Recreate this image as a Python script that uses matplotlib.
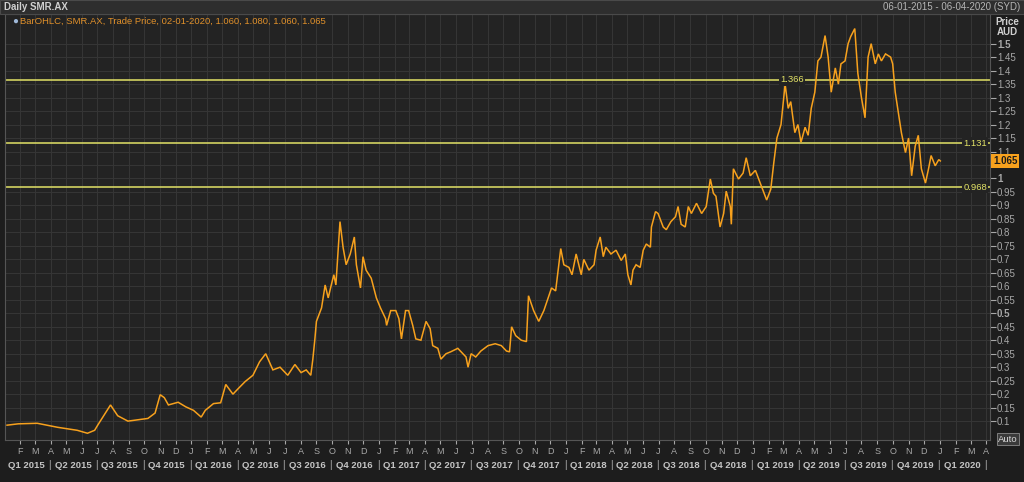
import matplotlib
matplotlib.use("Agg")
import matplotlib.pyplot as plt
import matplotlib.dates as mdates
import matplotlib.transforms as mtransforms
from matplotlib.patches import Rectangle
import numpy as np
import pandas as pd

plt.rcParams["font.family"] = ["Liberation Sans", "DejaVu Sans"]

# daily SMR.AX trade price (turning points only)
DATES = [
    "2015-01-06", "2015-01-28", "2015-03-06", "2015-04-15", "2015-05-23", "2015-06-12",
    "2015-06-26", "2015-07-02", "2015-07-27", "2015-08-10", "2015-08-30", "2015-09-19",
    "2015-10-08", "2015-10-22", "2015-11-01", "2015-11-09", "2015-11-17", "2015-12-06",
    "2015-12-21", "2016-01-05", "2016-01-20", "2016-01-28", "2016-02-13", "2016-02-27",
    "2016-03-08", "2016-03-22", "2016-04-01", "2016-04-15", "2016-04-30", "2016-05-13",
    "2016-05-25", "2016-06-08", "2016-06-22", "2016-07-07", "2016-07-21", "2016-08-02",
    "2016-08-12", "2016-08-21", "2016-08-25", "2016-08-29", "2016-09-01", "2016-09-11",
    "2016-09-18", "2016-09-24", "2016-09-30", "2016-10-05", "2016-10-09", "2016-10-17",
    "2016-10-23", "2016-10-29", "2016-11-06", "2016-11-14", "2016-11-18", "2016-11-26",
    "2016-12-01", "2016-12-07", "2016-12-17", "2016-12-27", "2017-01-04", "2017-01-14",
    "2017-01-16", "2017-01-24", "2017-02-03", "2017-02-09", "2017-02-14", "2017-02-22",
    "2017-02-28", "2017-03-08", "2017-03-14", "2017-03-24", "2017-04-03", "2017-04-11",
    "2017-04-16", "2017-04-26", "2017-05-02", "2017-05-12", "2017-05-21", "2017-06-04",
    "2017-06-14", "2017-06-20", "2017-06-24", "2017-06-30", "2017-07-09", "2017-07-19",
    "2017-08-02", "2017-08-16", "2017-08-28", "2017-09-07", "2017-09-13", "2017-09-17",
    "2017-09-25", "2017-10-06", "2017-10-16", "2017-10-20", "2017-10-30", "2017-11-09",
    "2017-11-19", "2017-12-04", "2017-12-12", "2017-12-22", "2017-12-28", "2018-01-07",
    "2018-01-13", "2018-01-21", "2018-01-31", "2018-02-05", "2018-02-15", "2018-02-25",
    "2018-03-01", "2018-03-09", "2018-03-15", "2018-03-20", "2018-03-30", "2018-04-09",
    "2018-04-19", "2018-04-27", "2018-05-02", "2018-05-08", "2018-05-12", "2018-05-18",
    "2018-05-26", "2018-06-01", "2018-06-07", "2018-06-15", "2018-06-17", "2018-06-25",
    "2018-06-30", "2018-07-10", "2018-07-16", "2018-07-25", "2018-08-03", "2018-08-08",
    "2018-08-14", "2018-08-22", "2018-08-28", "2018-09-03", "2018-09-13", "2018-09-23",
    "2018-10-02", "2018-10-10", "2018-10-16", "2018-10-21", "2018-10-29", "2018-11-05",
    "2018-11-10", "2018-11-18", "2018-11-20", "2018-11-24", "2018-12-04", "2018-12-13",
    "2018-12-19", "2018-12-27", "2019-01-06", "2019-01-12", "2019-01-18", "2019-01-28",
    "2019-02-05", "2019-02-11", "2019-02-17", "2019-02-25", "2019-03-05", "2019-03-11",
    "2019-03-16", "2019-03-24", "2019-03-30", "2019-04-05", "2019-04-13", "2019-04-19",
    "2019-04-25", "2019-05-02", "2019-05-08", "2019-05-14", "2019-05-22", "2019-05-28",
    "2019-06-03", "2019-06-11", "2019-06-17", "2019-06-22", "2019-06-30", "2019-07-06",
    "2019-07-11", "2019-07-19", "2019-07-25", "2019-08-01", "2019-08-08", "2019-08-14",
    "2019-08-20", "2019-08-28", "2019-09-03", "2019-09-09", "2019-09-17", "2019-09-27",
    "2019-10-01", "2019-10-06", "2019-10-12", "2019-10-18", "2019-10-26", "2019-11-01",
    "2019-11-07", "2019-11-14", "2019-11-20", "2019-11-26", "2019-12-04", "2019-12-10",
    "2019-12-15", "2019-12-23", "2019-12-30", "2020-01-02",
]
PRICE = [
    0.085, 0.090, 0.092, 0.077, 0.066, 0.055,
    0.066, 0.085, 0.160, 0.120, 0.100, 0.105,
    0.110, 0.130, 0.198, 0.187, 0.160, 0.170,
    0.153, 0.140, 0.115, 0.140, 0.165, 0.168,
    0.236, 0.200, 0.220, 0.247, 0.270, 0.320,
    0.350, 0.290, 0.300, 0.270, 0.310, 0.280,
    0.290, 0.270, 0.330, 0.405, 0.470, 0.520,
    0.605, 0.557, 0.605, 0.643, 0.605, 0.840,
    0.745, 0.680, 0.720, 0.783, 0.680, 0.594,
    0.710, 0.660, 0.630, 0.557, 0.520, 0.480,
    0.455, 0.510, 0.510, 0.480, 0.405, 0.510,
    0.510, 0.455, 0.405, 0.400, 0.470, 0.443,
    0.380, 0.370, 0.330, 0.350, 0.357, 0.370,
    0.350, 0.338, 0.300, 0.350, 0.338, 0.360,
    0.380, 0.387, 0.380, 0.360, 0.357, 0.450,
    0.417, 0.400, 0.395, 0.565, 0.510, 0.470,
    0.510, 0.594, 0.583, 0.740, 0.680, 0.670,
    0.643, 0.720, 0.643, 0.700, 0.660, 0.680,
    0.734, 0.783, 0.710, 0.745, 0.720, 0.734,
    0.696, 0.720, 0.643, 0.605, 0.660, 0.680,
    0.670, 0.734, 0.757, 0.745, 0.820, 0.877,
    0.870, 0.820, 0.810, 0.840, 0.858, 0.896,
    0.830, 0.820, 0.896, 0.870, 0.908, 0.870,
    0.896, 0.998, 0.945, 0.934, 0.820, 0.870,
    0.953, 0.896, 0.830, 1.036, 0.998, 1.020,
    1.077, 1.010, 1.030, 1.000, 0.970, 0.920,
    0.960, 1.060, 1.150, 1.200, 1.350, 1.260,
    1.285, 1.170, 1.200, 1.134, 1.190, 1.160,
    1.260, 1.320, 1.436, 1.450, 1.530, 1.450,
    1.320, 1.410, 1.350, 1.425, 1.436, 1.500,
    1.526, 1.556, 1.390, 1.300, 1.225, 1.450,
    1.500, 1.425, 1.462, 1.436, 1.462, 1.450,
    1.425, 1.320, 1.245, 1.170, 1.096, 1.150,
    1.010, 1.120, 1.160, 1.036, 0.983, 1.036,
    1.085, 1.047, 1.070, 1.065,
]
LEVELS = [1.366, 1.131, 0.968]
LAST_PRICE = 1.065
Y_TICKS = np.round(np.arange(0.1, 1.501, 0.05), 2)
QUARTERS = pd.date_range("2015-01-01", "2020-01-01", freq="QS")

BG = "#232323"
BG_OUT = "#1d1d1d"
GRID = "#363636"
ORANGE = "#f7a11d"
YELLOW = "#e2e266"
TXT = "#a8a8a8"

W, H = 1024, 482
fig = plt.figure(figsize=(W / 100, H / 100), dpi=100, facecolor=BG_OUT)
ax = fig.add_axes([5 / W, 1 - 440 / H, 985 / W, 426 / H])
ax.set_facecolor(BG)

dates = pd.to_datetime(DATES)
ax.plot(dates, PRICE, color=ORANGE, lw=1.1, solid_joinstyle="miter", zorder=3)

ax.set_xlim(pd.Timestamp("2015-01-02"), pd.Timestamp("2020-04-08"))
ax.set_ylim(0.03, 1.61)

# grid: every month and every 0.05
ax.xaxis.set_major_locator(mdates.MonthLocator())
ax.xaxis.set_major_formatter(
    plt.FuncFormatter(lambda v, p: mdates.num2date(v).strftime("%b")[0]))
ax.set_yticks(np.round(np.arange(0.05, 1.601, 0.05), 2))
ax.grid(True, color=GRID, lw=0.7, zorder=0)
ax.set_axisbelow(True)

ax.yaxis.tick_right()
ax.set_yticks(Y_TICKS)
ax.set_yticklabels([f"{v:g}" for v in Y_TICKS])
for lab, v in zip(ax.get_yticklabels(), Y_TICKS):
    if v in (0.5, 1.0, 1.5):
        lab.set_color("#e6e6e6")
        lab.set_fontweight("bold")
    if abs(v - LAST_PRICE) < 0.03 and v != 1.0 and v != 1.1:
        lab.set_visible(False)  # hidden under the last-price tag
ax.tick_params(axis="y", length=4, pad=1, labelsize=7, colors=TXT)
ax.tick_params(axis="x", length=3, pad=2, labelsize=6.5, colors=TXT)
for s in ax.spines.values():
    s.set_color("#555555")
    s.set_linewidth(0.8)

# quarter labels with separators
for i, q in enumerate(QUARTERS):
    lbl = f"Q{(q.month - 1) // 3 + 1} {q.year}"
    ax.annotate(lbl, xy=(q, 0), xycoords=("data", "axes fraction"),
                xytext=(4, -25), textcoords="offset pixels",
                ha="left", va="center", fontsize=6.8, fontweight="bold",
                color="#c4c4c4", annotation_clip=False)
    if i > 0:
        ax.annotate("|", xy=(q, 0), xycoords=("data", "axes fraction"),
                    xytext=(-1, -25), textcoords="offset pixels",
                    ha="center", va="center", fontsize=7,
                    color="#b8b8b8", annotation_clip=False)
end_q = QUARTERS[-1] + pd.offsets.QuarterBegin(startingMonth=1)
ax.annotate("|", xy=(end_q, 0), xycoords=("data", "axes fraction"),
            xytext=(-1, -25), textcoords="offset pixels", ha="center",
            va="center", fontsize=7, color="#b8b8b8", annotation_clip=False)

# horizontal levels
right_tr = mtransforms.blended_transform_factory(ax.transAxes, ax.transData)
for lv in LEVELS:
    ax.axhline(lv, color=YELLOW, lw=1.1, zorder=2)
ax.text(pd.Timestamp("2019-03-18"), LEVELS[0], f"{LEVELS[0]:.3f}", color=YELLOW,
        fontsize=6.8, ha="center", va="center", zorder=4,
        bbox=dict(facecolor=BG, edgecolor="none", pad=1.0))
for lv in LEVELS[1:]:
    ax.text(0.997, lv, f"{lv:.3f}", transform=right_tr, color=YELLOW,
            fontsize=6.8, ha="right", va="center", zorder=4,
            bbox=dict(facecolor=BG, edgecolor="none", pad=1.0))

# last price tag on the axis
ax.text(1.003, LAST_PRICE, f"{LAST_PRICE:.3f}", transform=right_tr,
        color="#1a1a1a", fontsize=7, fontweight="bold", ha="left", va="center",
        zorder=10, clip_on=False,
        bbox=dict(facecolor=ORANGE, edgecolor="none", pad=1.2))

# header bar
fig.patches.append(Rectangle((0, 1 - 14 / H), 1, 14 / H, transform=fig.transFigure,
                             facecolor="#2e2e2e", edgecolor="#4a4a4a", lw=0.8,
                             zorder=0))
fig.text(4 / W, 1 - 7 / H, "Daily SMR.AX", fontsize=7, fontweight="bold",
         color="#d0d0d0", va="center", ha="left")
fig.text(1020 / W, 1 - 7 / H, "06-01-2015 - 06-04-2020 (SYD)", fontsize=7,
         color="#b5b5b5", va="center", ha="right")
fig.text(1007 / W, 1 - 22 / H, "Price", fontsize=7, fontweight="bold",
         color="#d0d0d0", va="center", ha="center")
fig.text(1007 / W, 1 - 32 / H, "AUD", fontsize=7, fontweight="bold",
         color="#d0d0d0", va="center", ha="center")
fig.text(15 / W, 1 - 21 / H, "\u25cf", fontsize=7, color="#9fb8d8",
         va="center", ha="center")
fig.text(20 / W, 1 - 21 / H,
         "BarOHLC, SMR.AX, Trade Price, 02-01-2020, 1.060, 1.080, 1.060, 1.065",
         fontsize=6.8, color="#e0902a", va="center", ha="left")
fig.text(1008 / W, 1 - 439 / H, "Auto", fontsize=6.8, color="#d8d8d8",
         va="center", ha="center",
         bbox=dict(facecolor="#3a3a3a", edgecolor="#8a8a8a", lw=0.6, pad=0.8))

fig.savefig("out.png", dpi=100, facecolor=BG_OUT)
